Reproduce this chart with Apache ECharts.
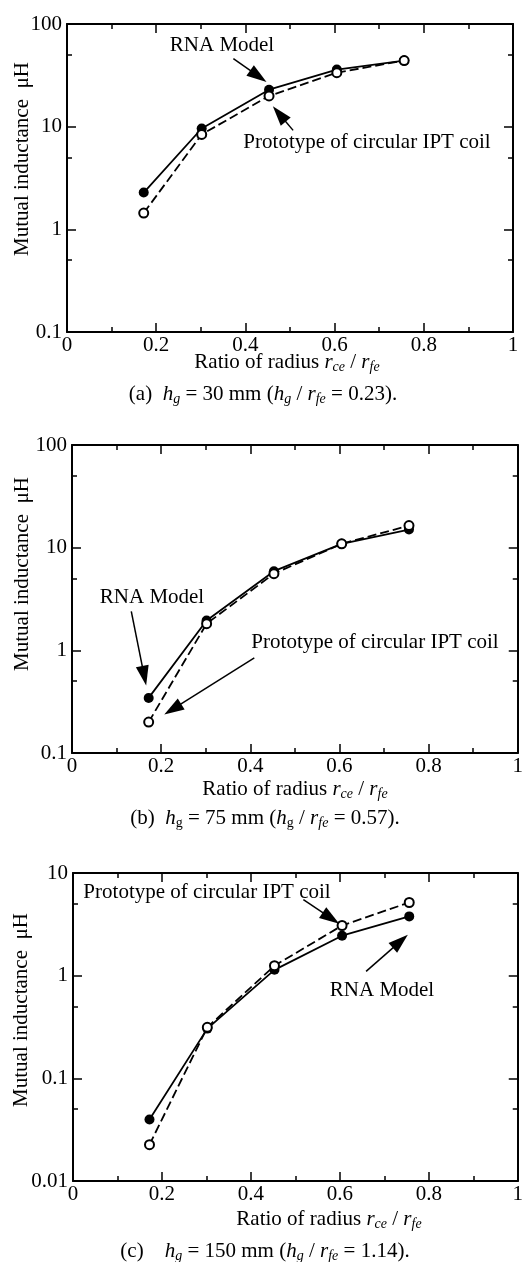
<!DOCTYPE html>
<html>
<head>
<meta charset="utf-8">
<script src="https://cdn.jsdelivr.net/npm/echarts@6/dist/echarts.min.js"></script>
<style>
html, body { margin: 0; background: #fff; }
#main { width: 526px; height: 1262px; }
</style>
</head>
<body>
<div id="main"></div>
<script>
// ratio of radius rce / rfe for the five coils
var ratio = [0.172, 0.302, 0.453, 0.605, 0.756];

// (a) hg = 30 mm
var rnaA = [2.28, 9.6, 22.9, 36, 44];
var protoA = [1.44, 8.4, 19.9, 33.6, 44];
// (b) hg = 75 mm
var rnaB = [0.344, 1.95, 5.9, 10.9, 15.0];
var protoB = [0.20, 1.82, 5.58, 10.9, 16.4];
// (c) hg = 150 mm
var rnaC = [0.0398, 0.305, 1.14, 2.45, 3.78];
var protoC = [0.0226, 0.314, 1.25, 3.08, 5.16];

// tick values
var xTicks = [0, 0.2, 0.4, 0.6, 0.8, 1];
var xMinor = [0.1, 0.3, 0.5, 0.7, 0.9];
var yTicksAB = [0.1, 1, 10, 100];
var yMinorAB = [0.5, 5, 50];
var yTicksC = [0.01, 0.1, 1, 10];
var yMinorC = [0.05, 0.5, 5];

// annotation arrows, [from, head] in data units
var arrowsA = [[[0.373, 45.9], [0.429, 31.0]], [[0.507, 9.2], [0.476, 13.3]]];
var arrowsB = [[[0.133, 2.40], [0.162, 0.565]], [[0.409, 0.843], [0.226, 0.267]]];
var arrowsC = [[[0.518, 5.49], [0.580, 3.63]], [[0.659, 1.10], [0.736, 2.16]]];

var FONT = 'Liberation Serif, Times New Roman, serif';
var chart = echarts.init(document.getElementById('main'));

var grids = [
  { left: 67, top: 24, width: 446, height: 308 },
  { left: 72, top: 445, width: 447, height: 308 },
  { left: 73, top: 873, width: 448, height: 308 }
];

function tickStyle(vals, len) {
  return { inside: true, length: len, customValues: vals, lineStyle: { color: '#000', width: 1.5 } };
}
var frameLine = { show: true, onZero: false, lineStyle: { color: '#000', width: 2 } };
var noLine = { show: false, onZero: false };

// 4 x axes per grid: bottom major (labels), bottom minor, top major, top minor
function makeX(g) {
  var base = { type: 'value', gridIndex: g, min: 0, max: 1, splitLine: { show: false } };
  return [
    Object.assign({}, base, { position: 'bottom', axisLine: frameLine, axisTick: tickStyle(xTicks, 9),
      axisLabel: { customValues: xTicks, color: '#000', fontFamily: FONT, fontSize: 21, margin: 3 } }),
    Object.assign({}, base, { position: 'bottom', axisLine: noLine, axisTick: tickStyle(xMinor, 5), axisLabel: { show: false } }),
    Object.assign({}, base, { position: 'top', axisLine: frameLine, axisTick: tickStyle(xTicks, 9), axisLabel: { show: false } }),
    Object.assign({}, base, { position: 'top', axisLine: noLine, axisTick: tickStyle(xMinor, 5), axisLabel: { show: false } })
  ];
}

function makeY(g, ticks, minor) {
  var base = { type: 'log', logBase: 10, gridIndex: g, min: ticks[0], max: ticks[ticks.length - 1], splitLine: { show: false } };
  return [
    Object.assign({}, base, { position: 'left', axisLine: frameLine, axisTick: tickStyle(ticks, 9),
      axisLabel: { customValues: ticks, color: '#000', fontFamily: FONT, fontSize: 21, margin: 5,
        formatter: function (v) { return String(+v.toPrecision(3)); } } }),
    Object.assign({}, base, { position: 'left', axisLine: noLine, axisTick: tickStyle(minor, 5), axisLabel: { show: false } }),
    Object.assign({}, base, { position: 'right', axisLine: frameLine, axisTick: tickStyle(ticks, 9), axisLabel: { show: false } }),
    Object.assign({}, base, { position: 'right', axisLine: noLine, axisTick: tickStyle(minor, 5), axisLabel: { show: false } })
  ];
}

function pairs(vals) {
  return ratio.map(function (x, i) { return [x, vals[i]]; });
}

function arrowLines(list) {
  return {
    silent: true,
    animation: false,
    label: { show: false },
    lineStyle: { color: '#000', width: 1.5, type: 'solid' },
    emphasis: { disabled: true },
    data: list.map(function (a) {
      return [
        { coord: a[0], symbol: 'none' },
        { coord: a[1], symbol: 'triangle', symbolSize: [13, 20], itemStyle: { color: '#000' } }
      ];
    })
  };
}

function rnaSeries(g, vals, arrows) {
  return {
    type: 'line', xAxisIndex: g * 4, yAxisIndex: g * 4, data: pairs(vals),
    symbol: 'circle', symbolSize: 10, color: '#000',
    itemStyle: { color: '#000' }, lineStyle: { color: '#000', width: 1.8 },
    z: 2, animation: false, markLine: arrowLines(arrows)
  };
}

function protoSeries(g, vals) {
  return {
    type: 'line', xAxisIndex: g * 4, yAxisIndex: g * 4, data: pairs(vals),
    symbol: 'circle', symbolSize: 9, color: '#000',
    itemStyle: { color: '#fff', borderColor: '#000', borderWidth: 2 },
    lineStyle: { color: '#000', width: 1.8, type: [9, 4] },
    z: 3, animation: false
  };
}

var richBase = {
  i: { fontFamily: FONT, fontSize: 21, fontStyle: 'italic', fill: '#000' },
  si: { fontFamily: FONT, fontSize: 14, fontStyle: 'italic', fill: '#000', padding: [10, 0, 0, 0] },
  s: { fontFamily: FONT, fontSize: 14, fill: '#000', padding: [10, 0, 0, 0] }
};

function txt(x, y, text, rot) {
  return {
    type: 'text', x: x, y: y, rotation: rot || 0, silent: true,
    style: { text: text, fontFamily: FONT, fontSize: 21, fill: '#000', align: 'center', verticalAlign: 'middle', rich: richBase }
  };
}

var xTitle = 'Ratio of radius {i|r}{si|ce} / {i|r}{si|fe}';
var yTitle = 'Mutual inductance  \u03bcH';

var graphics = [
  // (a)
  txt(222, 45, 'RNA Model'),
  txt(367, 142, 'Prototype of circular IPT coil'),
  txt(287, 362, xTitle),
  txt(22, 159, yTitle, Math.PI / 2),
  txt(263, 394, '(a)  {i|h}{si|g} = 30 mm ({i|h}{si|g} / {i|r}{si|fe} = 0.23).'),
  // (b)
  txt(152, 597, 'RNA Model'),
  txt(375, 642, 'Prototype of circular IPT coil'),
  txt(295, 789, xTitle),
  txt(22, 574, yTitle, Math.PI / 2),
  txt(265, 818, '(b)  {i|h}{s|g} = 75 mm ({i|h}{s|g} / {i|r}{si|fe} = 0.57).'),
  // (c)
  txt(207, 892, 'Prototype of circular IPT coil'),
  txt(382, 990, 'RNA Model'),
  txt(329, 1219, xTitle),
  txt(21, 1010, yTitle, Math.PI / 2),
  txt(265, 1251, '(c)    {i|h}{si|g} = 150 mm ({i|h}{si|g} / {i|r}{si|fe} = 1.14).')
];

chart.setOption({
  backgroundColor: '#fff',
  animation: false,
  grid: grids,
  xAxis: makeX(0).concat(makeX(1), makeX(2)),
  yAxis: makeY(0, yTicksAB, yMinorAB).concat(makeY(1, yTicksAB, yMinorAB), makeY(2, yTicksC, yMinorC)),
  series: [
    rnaSeries(0, rnaA, arrowsA), protoSeries(0, protoA),
    rnaSeries(1, rnaB, arrowsB), protoSeries(1, protoB),
    rnaSeries(2, rnaC, arrowsC), protoSeries(2, protoC)
  ],
  graphic: graphics
});
</script>
</body>
</html>
